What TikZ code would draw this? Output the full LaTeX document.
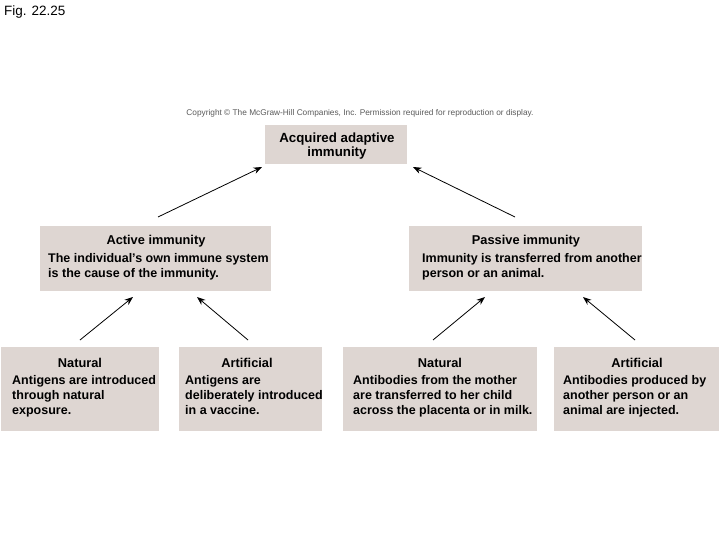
\documentclass[tikz,border=0pt]{standalone}
\usepackage{fontspec}
\setmainfont{Liberation Sans}
\usetikzlibrary{arrows.meta}
\definecolor{boxfill}{RGB}{222,214,210}
\definecolor{copygray}{RGB}{90,90,90}
\tikzset{
  box/.style={fill=boxfill, draw=none, anchor=north west, inner sep=0pt},
  ttl/.style={font=\bfseries\fontsize{12.8}{15}\selectfont, inner sep=0pt, anchor=north},
  body/.style={font=\bfseries\fontsize{12.5}{15}\selectfont, inner sep=0pt, anchor=north west, align=left},
  arr/.style={line width=0.8pt, -{Stealth[length=8.5pt,width=6.5pt]}}
}
\begin{document}
\begin{tikzpicture}[x=1pt,y=-1pt]
\useasboundingbox (0,0) rectangle (720,540);
\node[anchor=west, inner sep=0pt, font=\fontsize{13.5}{15}\selectfont] (fig) at (4,12) {Fig. 22.25};
\node[inner sep=0pt, text=copygray, font=\fontsize{8.3}{10}\selectfont] (copy) at (360,113) {Copyright \textcopyright{} The McGraw-Hill Companies, Inc. Permission required for reproduction or display.};

% boxes
\node[box, minimum width=142pt, minimum height=39pt] (top) at (265,125) {};
\node[box, minimum width=231pt, minimum height=65pt] (active) at (40,226) {};
\node[box, minimum width=233pt, minimum height=65pt] (passive) at (409,226) {};
\node[box, minimum width=158pt, minimum height=84pt] (b1) at (1,347) {};
\node[box, minimum width=143pt, minimum height=84pt] (b2) at (179,347) {};
\node[box, minimum width=194pt, minimum height=84pt] (b3) at (343,347) {};
\node[box, minimum width=165pt, minimum height=84pt] (b4) at (554,347) {};

% texts
\node[ttl, align=center, font=\bfseries\fontsize{13.3}{13.8}\selectfont] (toptxt) at (337,133) {Acquired adaptive\\immunity};
\node[ttl] (activet) at (156,235) {Active immunity};
\node[body] (activeb) at (48,253) {The individual's own immune system\\is the cause of the immunity.};
\node[ttl] (passivet) at (526,235) {Passive immunity};
\node[body] (passiveb) at (422,253) {Immunity is transferred from another\\person or an animal.};
\node[ttl] (b1t) at (80,358) {Natural};
\node[body] (b1b) at (12,375) {Antigens are introduced\\through natural\\exposure.};
\node[ttl] (b2t) at (247,358) {Artificial};
\node[body] (b2b) at (185,375) {Antigens are\\deliberately introduced\\in a vaccine.};
\node[ttl] (b3t) at (440,358) {Natural};
\node[body] (b3b) at (353,375) {Antibodies from the mother\\are transferred to her child\\across the placenta or in milk.};
\node[ttl] (b4t) at (637,358) {Artificial};
\node[body] (b4b) at (563,375) {Antibodies produced by\\another person or an\\animal are injected.};

% arrow end points
\coordinate (a1s) at (158,217); \coordinate (a1e) at (262,167);
\coordinate (a2s) at (515,217); \coordinate (a2e) at (413,167);
\coordinate (a3s) at (80,340);  \coordinate (a3e) at (133,297);
\coordinate (a4s) at (248,340); \coordinate (a4e) at (197,297);
\coordinate (a5s) at (433,340); \coordinate (a5e) at (485,297);
\coordinate (a6s) at (635,340); \coordinate (a6e) at (583,297);
\draw[arr] (a1s) -- (a1e);
\draw[arr] (a2s) -- (a2e);
\draw[arr] (a3s) -- (a3e);
\draw[arr] (a4s) -- (a4e);
\draw[arr] (a5s) -- (a5e);
\draw[arr] (a6s) -- (a6e);
\end{tikzpicture}
\end{document}
